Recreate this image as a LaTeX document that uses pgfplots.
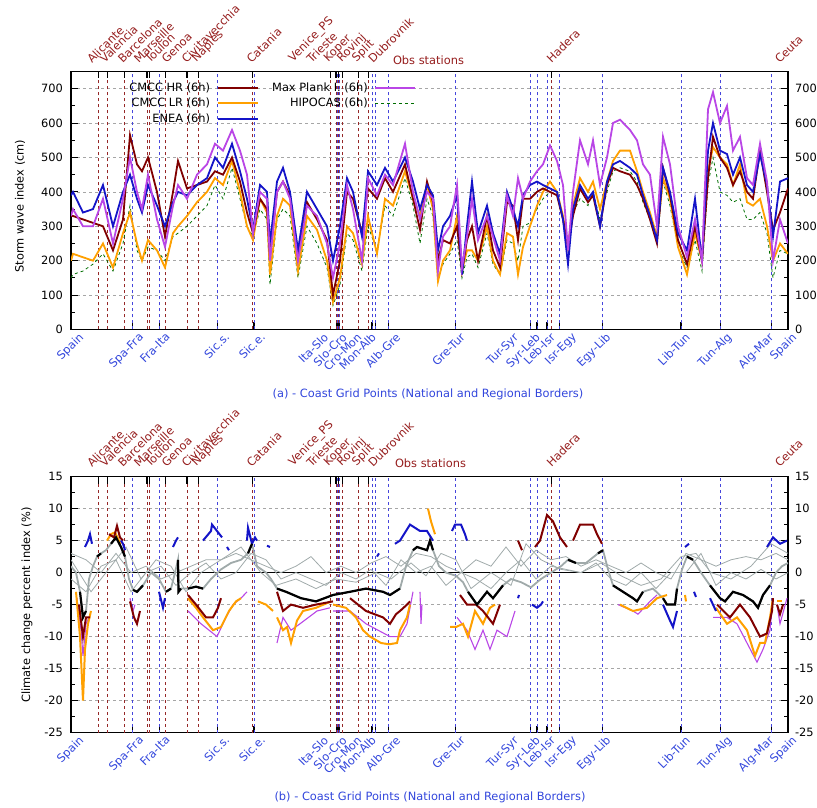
\documentclass[border=0pt]{standalone}
\usepackage{fontspec}
\setmainfont{DejaVu Sans}
\usepackage{pgfplots}
\pgfplotsset{compat=1.18}
\usepackage{pgfplotstable}
\definecolor{cHR}{RGB}{128,0,0}
\definecolor{cLR}{RGB}{255,160,0}
\definecolor{cEN}{RGB}{20,20,200}
\definecolor{cMP}{RGB}{185,70,230}
\definecolor{cHI}{RGB}{0,110,0}
\definecolor{lblred}{RGB}{150,30,30}
\definecolor{lblblue}{RGB}{50,70,220}
\definecolor{vred}{RGB}{150,40,40}
\definecolor{vblue}{RGB}{70,70,220}
\definecolor{cgray}{RGB}{160,170,170}
\newcommand\fs{\fontsize{11.4}{13.5}\selectfont}

\pgfplotstableread{
x hr lr en mp hi
0 330 200 390 330 150
2 330 220 400 350 160
12 320 210 340 300 170
22 310 200 350 300 190
32 300 250 420 380 220
42 230 180 300 250 170
52 320 280 400 380 250
59 565 340 450 500 360
66 480 250 380 400 230
71 460 200 340 350 200
77 500 260 420 450 240
86 400 230 360 320 230
94 270 180 300 240 200
102 400 280 370 360 270
107 490 300 400 420 280
116 410 330 390 380 300
126 420 370 420 450 330
136 430 400 440 480 360
144 460 440 500 540 420
152 450 420 470 520 380
161 500 490 540 580 470
169 430 400 460 520 380
176 340 300 380 450 300
182 280 260 290 280 270
189 380 380 420 400 350
196 350 340 400 380 320
199 210 160 250 200 130
206 400 330 430 400 320
212 430 380 470 430 350
219 390 360 400 380 330
227 210 170 230 200 150
236 370 330 400 360 300
246 320 290 350 330 250
256 260 200 300 250 180
262 100 80 200 150 70
269 200 150 300 250 130
276 400 300 440 420 280
282 380 280 400 350 260
291 280 190 270 200 170
297 410 330 460 440 300
306 380 220 420 390 230
314 440 380 470 450 360
322 400 360 430 420 330
334 480 460 500 540 440
342 380 380 430 400 360
349 290 330 350 320 250
356 430 420 420 400 380
362 370 350 390 380 330
367 200 140 230 170 150
372 260 200 300 270 190
379 250 230 330 300 220
386 300 330 390 420 260
391 170 170 160 180 150
396 260 230 300 270 210
401 300 230 430 380 220
407 200 200 280 260 180
416 330 300 360 330 280
422 230 200 280 270 190
429 180 160 220 200 160
436 370 280 400 390 260
442 360 270 350 330 250
447 260 160 300 440 200
452 380 240 390 380 300
459 380 300 420 430 310
466 400 360 430 460 350
472 410 400 420 480 380
479 400 430 410 535 400
486 390 400 400 490 390
492 320 330 320 420 320
497 240 240 190 230 230
502 330 360 350 400 340
509 410 440 420 550 380
517 370 400 380 480 360
522 390 430 400 550 400
529 300 350 300 420 320
536 420 430 430 500 400
542 470 490 480 600 460
549 460 520 490 610 470
559 450 520 470 580 460
566 420 460 450 550 430
572 380 400 390 480 370
579 320 340 330 450 320
586 250 270 260 300 250
592 470 440 470 560 430
599 390 380 400 480 360
607 260 240 280 300 240
616 190 160 230 210 180
624 300 280 380 320 260
631 200 200 200 200 170
637 440 460 520 640 420
642 560 530 600 690 500
649 500 500 520 600 400
656 470 480 510 650 390
662 420 420 450 520 370
669 460 480 500 560 380
676 400 370 420 440 320
682 380 360 400 420 320
689 520 380 510 540 340
696 400 300 420 430 280
702 290 200 270 200 150
709 340 250 430 320 230
717 410 220 440 250 220
}\toptable

\pgfplotstableread{
x y
0 1
5 0
9 -3
12 -7
15 -6
18 -1
22 1
26 2.5
30 3
35 3.5
40 4.5
45 5.5
50 4
54 2.5
58 -1
62 -2.7
66 -3
72 -2
80 0
88 -1
95 -3
100 -2.5
104 0
107 2
107.5 -3
110 -2.5
117 -2.5
125 -2.2
132 -2.5
140 -1
150 0.5
160 1.5
170 2
177 3
181 4.5
186 1
195 0
200 -1
206 -2.5
215 -3
230 -4
245 -4.5
262 -3.5
279 -3
295 -2.5
312 -3
319 -3.5
329 -2.5
335 1
342 3.5
346 4
356 3.5
359 5
362 3.5
368 1
375 0
385 -0.5
392 -1.5
397 -3
406 -5
416 -3
422 -4
432 -2
440 -1
450 -1.5
460 -2.3
470 -1
480 0
490 1
497 2
505 1.5
515 1.5
527 3
532 3.5
537 0.5
542 -2
552 -3
562 -4
566 -4.5
572 -3
582 -2.5
592 -4
596 -5
604 -5
606 -2.5
611 0.5
616 2.5
622 2
630 0
639 -2
649 -4
654 -4.5
662 -3
672 -3.5
682 -4.5
687 -5.5
692 -3.5
699 -2
705 0
711 1
717 1.5
}\meantable

\begin{document}
\fs
\begin{tikzpicture}
\useasboundingbox (0,0) rectangle (817pt,808pt);
\pgfplotsset{
 panel/.style={scale only axis, width=717pt, xmin=0, xmax=717,
  axis line style={black, line width=1.2pt},
  xtick={61.7,88.5,146.5,183,266,268,301,304.5,317.3,384.3,459.7,466,476,488.3,531.3,610,649.7,700.3},
  xticklabels={}, xtick pos=left, tick align=inside,
  major tick length=7pt, minor tick length=4pt,
  x tick style={black, line width=1.5pt}, y tick style={black, line width=1pt},
  ymajorgrids, major grid style={gray!70, dashed, line width=0.6pt},
  minor y tick num=1,
  /pgf/number format/assume math mode=true,
  yticklabel style={xshift=-4pt},
 },
 rightlab/.style={scale only axis, width=717pt, xmin=0, xmax=717,
  xtick=\empty, axis line style={draw=none}, major tick length=0pt,
  yticklabel pos=right, yticklabel style={xshift=3pt},
  /pgf/number format/assume math mode=true},
}
% ================= TOP PANEL =================
\begin{axis}[panel, at={(71pt,478.5pt)}, anchor=south west, height=258pt,
  ymin=0, ymax=750, ytick={0,100,...,700},
  legend columns=2, legend cell align=right, legend plot pos=right,
  legend image code/.code={\draw[#1] (0pt,0pt) -- (40pt,0pt);},
  legend style={draw=none, fill=none, inner sep=0pt, at={(0.079,0.963)}, anchor=north west,
    nodes={inner sep=1.5pt}, row sep=2pt,
    /tikz/every odd column/.append style={column sep=5pt},
    /tikz/every even column/.append style={column sep=12pt}},
]
\pgfplotsinvokeforeach{27.5,36.5,53.5,76,78.5,94.5,116,127.5,181.5,259.7,265,267.3,271.7,287.5,297.5,480.7}{
  \addplot[vred, dashed, line width=0.6pt, forget plot] coordinates {(#1,0) (#1,750)};
  \addplot[black, line width=1.5pt, forget plot] coordinates {(#1,750) (#1,730)};
}
\pgfplotsinvokeforeach{61.7,88.5,146.5,183,266,268,301,304.5,317.3,384.3,459.7,466,476,488.3,531.3,610,649.7,700.3}{
  \addplot[vblue, dashed, line width=0.6pt, forget plot] coordinates {(#1,0) (#1,750)};
}
\addlegendimage{cHR, line width=2pt}\addlegendentry{CMCC HR (6h)}
\addlegendimage{cMP, line width=2pt}\addlegendentry{Max Plank I. (6h)}
\addlegendimage{cLR, line width=2pt}\addlegendentry{CMCC LR (6h)}
\addlegendimage{cHI, dashed, line width=0.8pt}\addlegendentry{HIPOCAS (6h)}
\addlegendimage{cEN, line width=2pt}\addlegendentry{ENEA (6h)}
\addplot[cHI, dashed, line width=0.8pt, forget plot] table[x=x, y=hi] {\toptable};
\addplot[cLR, line width=1.8pt, forget plot] table[x=x, y=lr] {\toptable};
\addplot[cHR, line width=1.8pt, forget plot] table[x=x, y=hr] {\toptable};
\addplot[cEN, line width=1.8pt, forget plot] table[x=x, y=en] {\toptable};
\addplot[cMP, line width=1.8pt, forget plot] table[x=x, y=mp] {\toptable};
\end{axis}
\begin{axis}[rightlab, at={(71pt,478.5pt)}, anchor=south west, height=258pt,
  ymin=0, ymax=750, ytick={0,100,...,700}]
\end{axis}

% ================= BOTTOM PANEL =================
\begin{axis}[panel, at={(71pt,75.4pt)}, anchor=south west, height=256pt,
  ymin=-25, ymax=15, ytick={-25,-20,...,15}]
\pgfplotsinvokeforeach{27.5,36.5,53.5,76,78.5,94.5,116,127.5,181.5,259.7,265,267.3,271.7,287.5,297.5,480.7}{
  \addplot[vred, dashed, line width=0.6pt] coordinates {(#1,-25) (#1,15)};
  \addplot[black, line width=1.5pt] coordinates {(#1,15) (#1,13.9)};
}
\pgfplotsinvokeforeach{61.7,88.5,146.5,183,266,268,301,304.5,317.3,384.3,459.7,466,476,488.3,531.3,610,649.7,700.3}{
  \addplot[vblue, dashed, line width=0.6pt] coordinates {(#1,-25) (#1,15)};
}
\addplot[black, line width=1pt] coordinates {(0,0) (717,0)};
% gray lines
\addplot[cgray, line width=0.8pt] coordinates {(0,3) (15,2) (30,0) (45,3) (60,0) (75,1) (90,-1) (105,0) (120,1) (135,2) (150,2) (165,3) (180,2) (195,1) (210,0) (225,1) (240,2.5) (255,0) (270,1) (285,0) (300,1.5) (315,2.5) (330,1) (345,3) (360,2.5) (375,1) (390,0) (405,2) (420,1) (435,4) (450,1) (465,3.5) (480,2) (495,2.5) (510,1) (525,2) (540,1) (555,0) (570,1.5) (585,0) (600,-1) (615,3) (630,2) (645,1) (660,2) (675,2.5) (690,2) (705,3) (717,2)};
\addplot[cgray, line width=0.8pt] coordinates {(0,-1) (15,-3) (30,1) (45,2) (60,-3) (75,0) (90,1) (105,-2) (120,0) (135,1.5) (150,-1) (165,0) (180,3) (195,2) (210,-1) (225,0) (240,-1) (255,-2) (270,0) (285,-1) (300,0.5) (315,-2) (330,2) (345,0) (360,1) (375,-2) (390,0) (405,-1) (420,-2.5) (435,0) (450,2) (465,-1) (480,1) (495,0.5) (510,0) (525,1.5) (540,-1) (555,-2) (570,0) (585,-2.5) (600,0) (615,0) (630,3) (645,-2) (660,0) (675,-1) (690,0.5) (705,-1) (717,0)};
\addplot[cgray, line width=0.8pt] coordinates {(0,2) (20,-3) (40,1) (55,4) (70,-1) (85,2) (100,1) (115,-3) (130,0) (150,2) (170,4) (190,0) (205,-2) (225,-1) (245,-2.5) (265,-1) (285,-1.5) (305,0) (320,-1) (340,1.5) (355,-0.5) (370,3) (385,2) (400,-2.5) (420,0) (440,-2) (455,4.5) (470,2) (490,0.5) (510,0) (530,1.5) (550,-0.5) (570,-2) (590,-1) (610,2.5) (625,3) (640,0) (660,-1) (680,1) (700,4.5) (717,3)};
\addplot[cgray, line width=1.8pt] table[x=x, y=y] {\meantable};
% purple (Max Plank)
\addplot[cMP, line width=1.1pt] coordinates {(6,-4) (10,-9) (12,-13) (15,-8) (18,-7)};
\addplot[cMP, line width=1.1pt] coordinates {(59,-4) (62,-6) (64,-5)};
\addplot[cMP, line width=1.1pt] coordinates {(117,-6) (130,-8) (146,-10) (155,-7) (162,-5) (170,-4) (176,-3)};
\addplot[cMP, line width=1.1pt] coordinates {(206,-11) (212,-7) (220,-9) (229,-8) (246,-6) (259,-5.5)};
\addplot[cMP, line width=1.1pt] coordinates {(262,-6) (279,-6) (295,-8) (319,-10) (329,-10) (336,-8) (342,-3)};
\addplot[cMP, line width=1.1pt] coordinates {(349,-3) (350,-8) (351,-5)};
\addplot[cMP, line width=1.1pt] coordinates {(386,-7) (396,-9) (404,-12) (412,-9) (419,-12) (426,-9) (436,-10) (444,-6)};
\addplot[cMP, line width=1.1pt] coordinates {(547,-5) (562,-6) (567,-6.5) (579,-4.5) (586,-3.5)};
\addplot[cMP, line width=1.1pt] coordinates {(642,-7) (656,-7) (666,-8) (676,-11) (686,-14) (692,-12) (699,-9) (702,-4)};
\addplot[cMP, line width=1.1pt] coordinates {(706,-5) (709,-8) (716,-4)};
% orange (CMCC LR)
\addplot[cLR, line width=2pt] coordinates {(5,-3) (9,-10) (12,-20) (14,-12) (17,-8) (20,-6)};
\addplot[cLR, line width=2pt] coordinates {(36,5) (40,6) (44,6.3) (48,5) (50,4.5)};
\addplot[cLR, line width=2pt] coordinates {(117,-4) (125,-5.5) (132,-7) (142,-9) (150,-8.5) (158,-6) (165,-4.5) (170,-4)};
\addplot[cLR, line width=2pt] coordinates {(187,-4.5) (195,-5) (202,-6)};
\addplot[cLR, line width=2pt] coordinates {(206,-7) (212,-9) (216,-8.5) (220,-11) (226,-7.5) (232,-6) (245,-5.5) (260,-4.5)};
\addplot[cLR, line width=2pt] coordinates {(262,-5) (275,-5.5) (285,-7) (292,-9) (299,-10) (310,-11) (318,-11.2) (326,-11) (329,-9) (336,-7) (339,-5)};
\addplot[cLR, line width=2pt] coordinates {(357,10) (360,8) (362,7) (364,6)};
\addplot[cLR, line width=2pt] coordinates {(379,-8.5) (385,-8.5) (392,-8) (397,-10) (404,-6) (412,-8) (419,-5.5) (424,-5)};
\addplot[cLR, line width=2pt] coordinates {(549,-5) (562,-6) (576,-5.5) (586,-4) (596,-3.5)};
\addplot[cLR, line width=2pt] coordinates {(614,-3.5) (615,-4.5)};
\addplot[cLR, line width=2pt] coordinates {(645,-5.5) (656,-8) (666,-7) (676,-9) (684,-13) (689,-11) (694,-11) (699,-7) (702,-4)};
\addplot[cLR, line width=2pt] coordinates {(706,-4.5) (711,-4.5)};
% dark red (CMCC HR)
\addplot[cHR, line width=2pt] coordinates {(8,-5) (12,-10) (15,-7) (19,-7)};
\addplot[cHR, line width=2pt] coordinates {(38,6) (43,5.5) (46,7.3) (49,5.5) (52,5)};
\addplot[cHR, line width=2pt] coordinates {(59,-4.5) (63,-7) (66,-8) (69,-6)};
\addplot[cHR, line width=2pt] coordinates {(117,-3.5) (125,-5) (135,-7) (142,-7) (147,-5.5) (150,-4)};
\addplot[cHR, line width=2pt] coordinates {(206,-3) (212,-6) (220,-5) (232,-5.5) (245,-5) (262,-4.5)};
\addplot[cHR, line width=2pt] coordinates {(279,-4) (295,-6) (312,-7) (319,-8) (325,-6.5) (329,-6) (336,-5) (339,-4.5)};
\addplot[cHR, line width=2pt] coordinates {(389,-3.5) (396,-5) (405,-5) (412,-6) (422,-8) (429,-5)};
\addplot[cHR, line width=2pt] coordinates {(447,5) (451,3.5)};
\addplot[cHR, line width=2pt] coordinates {(464,4) (469,5) (476,9) (482,8) (489,5.5) (496,4)};
\addplot[cHR, line width=2pt] coordinates {(502,5) (509,7.5) (522,7.5) (526,6) (531,4.5)};
\addplot[cHR, line width=2pt] coordinates {(646,-5) (659,-7) (669,-5) (679,-7) (689,-10) (696,-9.5) (701,-6) (702,-4)};
\addplot[cHR, line width=2pt] coordinates {(706,-5) (709,-6.5) (712,-5)};
% blue (ENEA)
\addplot[cEN, line width=2pt] coordinates {(14,4) (17,5) (19,6) (21,4.5)};
\addplot[cEN, line width=2pt] coordinates {(50,5) (52,4.5) (54,3.5)};
\addplot[cEN, line width=2pt] coordinates {(88,-3) (92,-5.5) (94,-4)};
\addplot[cEN, line width=2pt] coordinates {(102,4) (105,5) (107,5.5)};
\addplot[cEN, line width=2pt] coordinates {(132,5) (140,6.5) (141,7.5) (146,6.5) (151,5.5)};
\addplot[cEN, line width=2pt] coordinates {(156,4) (158,3.5)};
\addplot[cEN, line width=2pt] coordinates {(176,5) (177,7) (181,4.5) (184,5.5) (186,5)};
\addplot[cEN, line width=2pt] coordinates {(196,4.2) (199,4)};
\addplot[cEN, line width=2pt] coordinates {(306,2.5) (308,3)};
\addplot[cEN, line width=2pt] coordinates {(324,4.5) (329,5) (339,7.5) (349,6.5) (356,6.5) (362,5)};
\addplot[cEN, line width=2pt] coordinates {(381,6.5) (384,7.5) (390,7.5) (394,6) (396,5)};
\addplot[cEN, line width=2pt] coordinates {(447,-4) (448,-3.5)};
\addplot[cEN, line width=2pt] coordinates {(461,-5) (466,-5.5) (470,-5) (472,-4.5)};
\addplot[cEN, line width=2pt] coordinates {(592,-5) (599,-7.5) (602,-8.5) (606,-6)};
\addplot[cEN, line width=2pt] coordinates {(614,4) (618,4.5)};
\addplot[cEN, line width=2pt] coordinates {(623,-3) (625,-3.8)};
\addplot[cEN, line width=2pt] coordinates {(639,-4) (645,-6)};
\addplot[cEN, line width=2pt] coordinates {(696,4) (702,5.5) (709,4.5) (716,5)};
% black (significant mean)
\addplot[black, line width=2.2pt, restrict x to domain=9:15] table[x=x,y=y] {\meantable};
\addplot[black, line width=2.2pt, restrict x to domain=26:30] table[x=x,y=y] {\meantable};
\addplot[black, line width=2.2pt, restrict x to domain=40:54] table[x=x,y=y] {\meantable};
\addplot[black, line width=2.2pt, restrict x to domain=62:72] table[x=x,y=y] {\meantable};
\addplot[black, line width=2.2pt, restrict x to domain=95:100] table[x=x,y=y] {\meantable};
\addplot[black, line width=2.2pt, restrict x to domain=107:110] table[x=x,y=y] {\meantable};
\addplot[black, line width=2.2pt, restrict x to domain=117:132] table[x=x,y=y] {\meantable};
\addplot[black, line width=2.2pt, restrict x to domain=177:181] table[x=x,y=y] {\meantable};
\addplot[black, line width=2.2pt, restrict x to domain=206:329] table[x=x,y=y] {\meantable};
\addplot[black, line width=2.2pt, restrict x to domain=342:362] table[x=x,y=y] {\meantable};
\addplot[black, line width=2.2pt, restrict x to domain=397:432] table[x=x,y=y] {\meantable};
\addplot[black, line width=2.2pt, restrict x to domain=497:505] table[x=x,y=y] {\meantable};
\addplot[black, line width=2.2pt, restrict x to domain=527:532] table[x=x,y=y] {\meantable};
\addplot[black, line width=2.2pt, restrict x to domain=542:572] table[x=x,y=y] {\meantable};
\addplot[black, line width=2.2pt, restrict x to domain=592:606] table[x=x,y=y] {\meantable};
\addplot[black, line width=2.2pt, restrict x to domain=616:622] table[x=x,y=y] {\meantable};
\addplot[black, line width=2.2pt, restrict x to domain=639:699] table[x=x,y=y] {\meantable};
\end{axis}
\begin{axis}[rightlab, at={(71pt,75.4pt)}, anchor=south west, height=256pt,
  ymin=-25, ymax=15, ytick={-25,-20,...,15}]
\end{axis}

% ================= LABELS =================
\begin{scope}[every node/.style={inner sep=0pt, outer sep=0pt}]
\foreach \x/\t in {92.3/Alicante, 105/Valencia, 123/Barcelona, 139/Marseille, 150/Toulon, 166.7/Genoa, 186.7/Civitavecchia, 198/Naples, 251.7/Catania, 295/Venice\_PS, 311.7/Trieste, 330/Koper, 343.3/Rovinj, 358.3/Split, 373.3/Dubrovnik, 551.7/Hadera, 780/Ceuta}{
  \node[text=lblred, rotate=45, anchor=south west] at ({\x*1pt},744pt) {\t};
  \node[text=lblred, rotate=45, anchor=south west] at ({\x*1pt},340pt) {\t};
}
\node[text=lblred, anchor=west] at (393pt,748pt) {Obs stations};
\node[text=lblred, anchor=west] at (395pt,345pt) {Obs stations};
\foreach \x/\t in {80/Spain, 140/Spa-Fra, 166.7/Fra-Ita, 226/Sic.s., 261.7/Sic.e., 325/Ita-Slo, 343.3/Slo-Cro, 358.3/Cro-Mon, 372.7/Mon-Alb, 397/Alb-Gre, 461.7/Gre-Tur, 515/Tur-Syr, 536.7/Syr-Leb, 551.7/Leb-Isr, 573/Isr-Egy, 607/Egy-Lib, 686.7/Lib-Tun, 728/Tun-Alg, 770/Alg-Mar, 793/Spain}{
  \node[text=lblblue, rotate=45, anchor=north east] at ({\x*1pt-2pt},476pt) {\t};
  \node[text=lblblue, rotate=45, anchor=north east] at ({\x*1pt-2pt},73pt) {\t};
}
\node[rotate=90] at (20pt,602pt) {Storm wave index (cm)};
\node[rotate=90] at (27pt,203pt) {Climate change percent index (\%)};
\node[text=lblblue] at (428pt,414pt) {(a) - Coast Grid Points (National and Regional Borders)};
\node[text=lblblue] at (430pt,11pt) {(b) - Coast Grid Points (National and Regional Borders)};
\end{scope}
\end{tikzpicture}
\end{document}
